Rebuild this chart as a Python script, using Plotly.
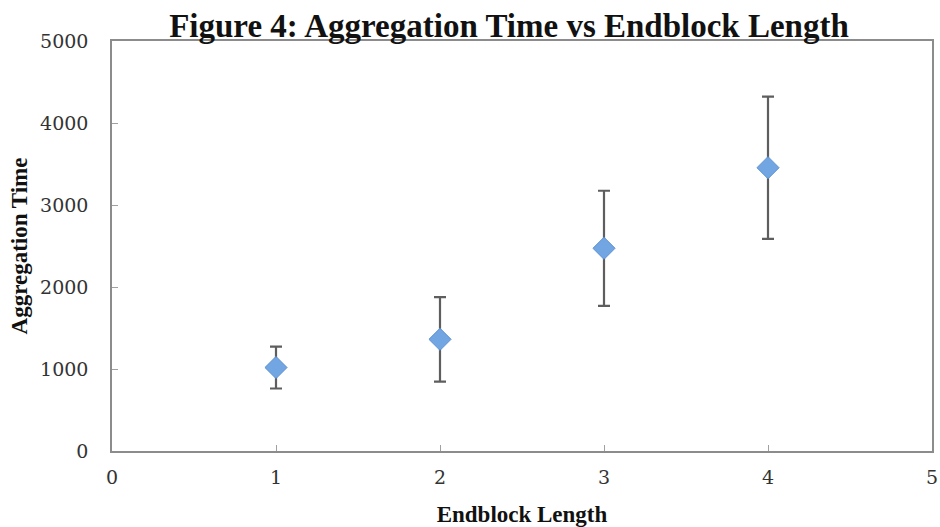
import plotly.graph_objects as go

endblock_length = [1, 2, 3, 4]
aggregation_time = [1018, 1362, 2472, 3455]
error_amount = [256, 515, 702, 867]

x_ticks = [0, 1, 2, 3, 4, 5]
y_ticks = [0, 1000, 2000, 3000, 4000, 5000]

fig = go.Figure()
fig.add_trace(go.Scatter(
    x=endblock_length, y=aggregation_time, mode="markers",
    marker=dict(symbol="diamond", size=17, color="#72a6e2",
                line=dict(color="#5a8fd2", width=1)),
    error_y=dict(type="data", array=error_amount, visible=True,
                 color="#5e5e5e", thickness=2.2, width=6),
    showlegend=False, cliponaxis=False,
))

axis_font = dict(family="DejaVu Serif", size=19, color="#333333")
title_font = dict(family="Liberation Serif", size=23, color="#111111")
fig.update_layout(
    width=940, height=527,
    margin=dict(l=112, r=8, t=41, b=76),
    paper_bgcolor="white", plot_bgcolor="white",
    title=dict(text="<b>Figure 4: Aggregation Time vs Endblock Length</b>",
               font=dict(family="Liberation Serif", size=33, color="#111111"),
               x=509 / 940, xanchor="center", xref="container",
               yref="container", y=1 - 25 / 527, yanchor="middle"),
)
fig.update_xaxes(
    range=[0, 5], tickvals=x_ticks, ticktext=[str(v) for v in x_ticks],
    showline=True, linecolor="#8c8c8c", linewidth=1.5, mirror=True,
    ticks="inside", ticklen=6, tickcolor="#a0a0a0", tickwidth=1,
    showgrid=False, zeroline=False, tickfont=axis_font,
    ticklabelstandoff=8, automargin=False,
    title=dict(text="<b>Endblock Length</b>", font=title_font, standoff=22),
)
fig.update_yaxes(
    range=[0, 5000], tickvals=y_ticks, ticktext=[str(v) for v in y_ticks],
    showline=True, linecolor="#8c8c8c", linewidth=1.5, mirror=True,
    ticks="inside", ticklen=6, tickcolor="#a0a0a0", tickwidth=1,
    showgrid=False, zeroline=False, tickfont=axis_font,
    ticklabelstandoff=18, automargin=False,
    title=dict(text="<b>Aggregation Time</b>", font=title_font, standoff=6),
)

fig.write_html(
    "out.html",
    config={"displayModeBar": False},
    post_script="document.body.style.margin='0px';document.body.style.overflow='hidden';",
)
